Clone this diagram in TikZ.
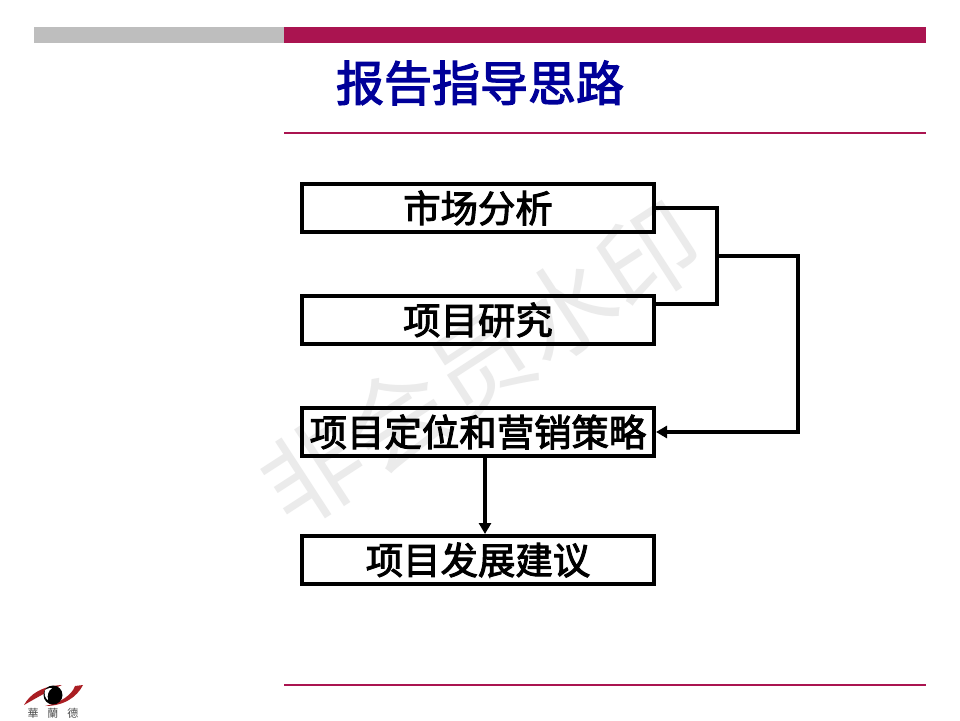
\documentclass[tikz,border=0pt]{standalone}
\usepackage{fontspec}
\newfontfamily\cjk{Noto Sans CJK SC}
\newfontfamily\cjkm[FakeBold=2.6]{Noto Sans CJK SC}
\usetikzlibrary{arrows.meta,calc}
\definecolor{crim}{RGB}{170,20,80}
\definecolor{barg}{RGB}{190,190,190}
\definecolor{titleblue}{RGB}{0,0,153}
\definecolor{logored}{RGB}{170,30,35}
\tikzset{
 boxn/.style={draw=black,fill=none,line width=4pt,minimum width=352pt,minimum height=48pt,inner sep=0pt,font=\cjkm\fontsize{37.4}{37.4}\selectfont,text=black},
 conn/.style={line width=4pt,black,line join=miter},
 arr/.style={line width=4pt,black,-{Triangle[length=11pt,width=12pt]}},
 rule/.style={line width=1.6pt,crim},
 wm/.style={font=\cjk\fontsize{100}{100}\selectfont,text=black!8,rotate=33,inner sep=0pt}
}
\begin{document}
\begin{tikzpicture}[x=1pt,y=-1pt]
\useasboundingbox (0,0) rectangle (960,720);
\fill[white] (0,0) rectangle (960,720);
% watermark
\node[wm] (wm) at (481,364) {非会员水印};
% top bars
\fill[barg] (34,27) rectangle (284,43);
\fill[crim] (284,27) rectangle (926,43);
\coordinate (r1a) at (284,133); \coordinate (r1b) at (926,133);
\coordinate (r2a) at (284,685); \coordinate (r2b) at (926,685);
\draw[rule] (r1a) -- (r1b);
\draw[rule] (r2a) -- (r2b);
\node[font=\cjkm\fontsize{48}{48}\selectfont,text=titleblue,inner sep=0pt] (title) at (480,83) {报告指导思路};
% boxes
\node[boxn] (b1) at (478,208) {市场分析};
\node[boxn] (b2) at (478,320) {项目研究};
\node[boxn] (b3) at (478,432) {项目定位和营销策略};
\node[boxn] (b4) at (478,560) {项目发展建议};
% connectors
\coordinate (j1) at (717,256);
\coordinate (j2) at (798,256);
\coordinate (b2t) at ($(b2.east)+(0,-16)$);
\coordinate (x3) at (485,0);
\draw[conn] (b1.east) -| (j1 |- b2t) -- (b2t);
\draw[conn] (j1) -- (j2) -- (j2 |- b3.east) -- ($(b3.east)+(20,0)$);
\draw[arr] ($(b3.east)+(24,0)$) -- (b3.east);
\draw[arr] (b3.south -| x3) -- (b4.north -| x3);
% logo
\fill[logored] (24,705) .. controls (30,694) and (42,686) .. (62,685) .. controls (50,690) and (38,697) .. (24,705) -- cycle;
\fill[logored] (83,685) .. controls (77,697) and (64,706) .. (45,706) .. controls (60,703) and (72,695) .. (75,686) -- cycle;
\fill[black] (53,695) circle (9.5);
\fill[white] (45,690) .. controls (48,688) and (50,688) .. (52,688) .. controls (48,691) and (47,695) .. (48,700) .. controls (45,698) and (44,694) .. (45,690) -- cycle;
\node[font=\cjk\fontsize{11}{11}\selectfont,text=black!70,inner sep=0pt] (lg) at (53,713.5) {華\hspace{9pt}蘭\hspace{9pt}德};
\end{tikzpicture}
\end{document}
